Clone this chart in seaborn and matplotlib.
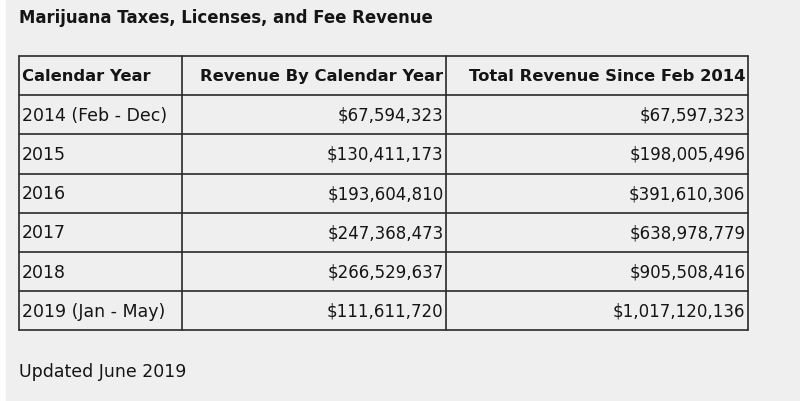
import matplotlib
matplotlib.use("Agg")
import matplotlib.pyplot as plt
import seaborn as sns

# table contents
title = "Marijuana Taxes, Licenses, and Fee Revenue"
columns = ["Calendar Year", "Revenue By Calendar Year", "Total Revenue Since Feb 2014"]
years = ["2014 (Feb - Dec)", "2015", "2016", "2017", "2018", "2019 (Jan - May)"]
revenue_year = [67594323, 130411173, 193604810, 247368473, 266529637, 111611720]
revenue_total = [67597323, 198005496, 391610306, 638978779, 905508416, 1017120136]
note = "Updated June 2019"

sns.set_theme(style="white")
plt.rcParams["font.family"] = ["DejaVu Sans"]

W, H = 800, 401
fig = plt.figure(figsize=(8, 4.01), dpi=100)
fig.patch.set_facecolor("white")
ax = fig.add_axes([0, 0, 1, 1])
ax.set_xlim(0, W)
ax.set_ylim(H, 0)
ax.axis("off")

# grey page panel
ax.add_patch(plt.Rectangle((6, 0), W - 6, H, color="#efefef", zorder=0))

txt_col = "#151515"
ax.text(19, 18, title, fontsize=11.9, fontweight="bold", va="center", ha="left", color=txt_col)

left, right = 19, 748
col_edges = [left, 182, 446, right]
top, row_h = 56, 39.2
n_rows = len(years) + 1
row_edges = [top + i * row_h for i in range(n_rows + 1)]

for x in col_edges:
    ax.plot([x, x], [row_edges[0], row_edges[-1]], color="#2a2a2a", lw=1.2, zorder=2)
for y in row_edges:
    ax.plot([left, right], [y, y], color="#2a2a2a", lw=1.2, zorder=2)

def cell_text(r, c, s, size, bold=False):
    yc = (row_edges[r] + row_edges[r + 1]) / 2 + 1
    if c == 0:
        x, ha = col_edges[0] + 2.5, "left"
    else:
        x, ha = col_edges[c + 1] - 2.5, "right"
    ax.text(x, yc, s, fontsize=size, ha=ha, va="center",
            fontweight="bold" if bold else "normal", color=txt_col)

for c, name in enumerate(columns):
    cell_text(0, c, name, 11.8, bold=True)

for i, (yr, rv, tot) in enumerate(zip(years, revenue_year, revenue_total)):
    cell_text(i + 1, 0, yr, 12.5)
    cell_text(i + 1, 1, f"${rv:,}", 12)
    cell_text(i + 1, 2, f"${tot:,}", 12)

ax.text(19, 372, note, fontsize=12.5, va="center", ha="left", color=txt_col)

fig.savefig("out.png", dpi=100)
